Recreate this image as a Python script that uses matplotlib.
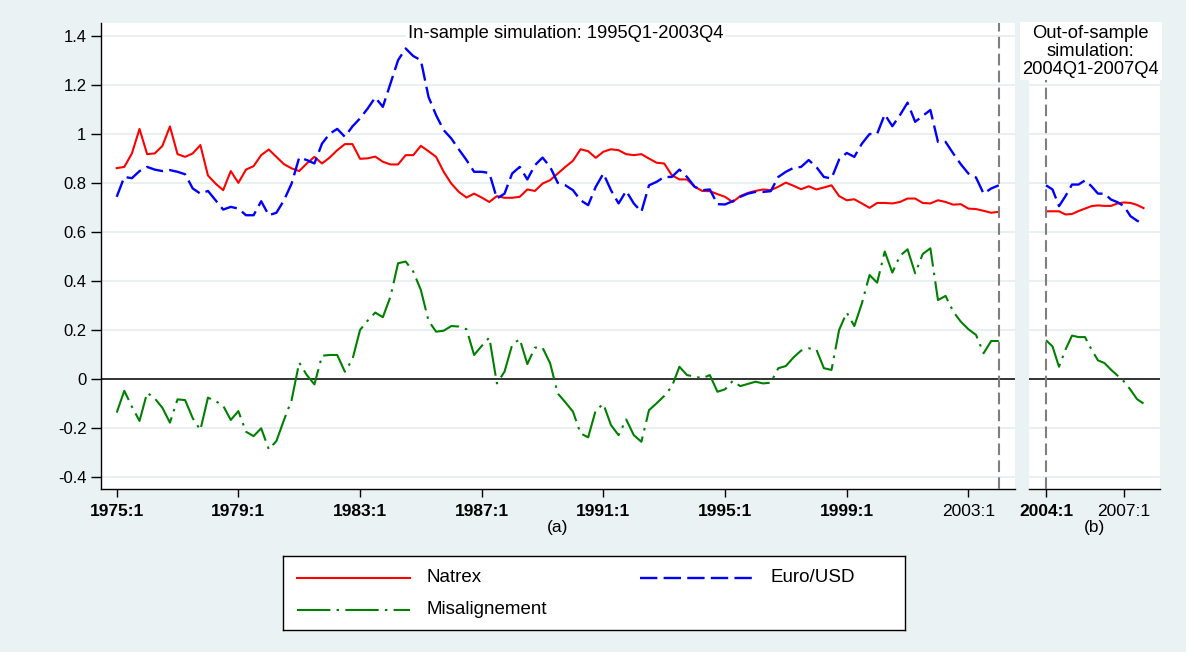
import numpy as np
import matplotlib
matplotlib.use("Agg")
import matplotlib.pyplot as plt

plt.rcParams['font.family'] = ['Liberation Sans', 'DejaVu Sans']
plt.rcParams['lines.scale_dashes'] = False

# ---------------- data (quarterly) ----------------
# Panel (a): 1975:1 ... 2004:1
natrex_a = [0.86, 0.865, 0.92, 1.02, 0.917, 0.92, 0.95, 1.03, 0.917, 0.906,
            0.92, 0.954, 0.83, 0.797, 0.77, 0.848, 0.80, 0.854, 0.868, 0.913,
            0.936, 0.906, 0.876, 0.859, 0.848, 0.879, 0.906, 0.879, 0.903, 0.933,
            0.958, 0.958, 0.898, 0.90, 0.907, 0.886, 0.875, 0.875, 0.913, 0.913,
            0.951, 0.929, 0.906, 0.845, 0.797, 0.763, 0.74, 0.756, 0.74, 0.722,
            0.746, 0.739, 0.739, 0.743, 0.773, 0.767, 0.797, 0.811, 0.838, 0.865,
            0.89, 0.937, 0.929, 0.902, 0.927, 0.937, 0.933, 0.917, 0.913, 0.917,
            0.899, 0.882, 0.879, 0.831, 0.814, 0.814, 0.784, 0.767, 0.766, 0.754,
            0.743, 0.722, 0.746, 0.759, 0.767, 0.773, 0.77, 0.784, 0.801, 0.788,
            0.774, 0.786, 0.773, 0.781, 0.79, 0.746, 0.729, 0.733, 0.716, 0.698,
            0.718, 0.718, 0.716, 0.722, 0.736, 0.736, 0.718, 0.716, 0.729, 0.722,
            0.711, 0.713, 0.695, 0.693, 0.686, 0.678, 0.682]
eurusd_a = [0.743, 0.824, 0.819, 0.848, 0.865, 0.854, 0.848, 0.852, 0.845, 0.835,
            0.777, 0.756, 0.767, 0.729, 0.691, 0.702, 0.695, 0.668, 0.668, 0.725,
            0.668, 0.678, 0.729, 0.797, 0.903, 0.893, 0.879, 0.96, 1.0, 1.02,
            0.988, 1.03, 1.063, 1.103, 1.148, 1.11, 1.205, 1.30, 1.348, 1.317,
            1.30, 1.151, 1.076, 1.015, 0.981, 0.936, 0.893, 0.845, 0.845, 0.84,
            0.736, 0.756, 0.838, 0.865, 0.814, 0.872, 0.903, 0.865, 0.80, 0.79,
            0.77, 0.729, 0.709, 0.784, 0.838, 0.77, 0.716, 0.767, 0.716, 0.682,
            0.79, 0.804, 0.824, 0.824, 0.854, 0.824, 0.784, 0.77, 0.773, 0.713,
            0.712, 0.725, 0.743, 0.756, 0.763, 0.763, 0.766, 0.824, 0.845, 0.861,
            0.865, 0.893, 0.865, 0.824, 0.818, 0.895, 0.922, 0.906, 0.96, 0.999,
            1.0, 1.079, 1.031, 1.076, 1.127, 1.049, 1.073, 1.097, 0.967, 0.967,
            0.92, 0.876, 0.838, 0.822, 0.756, 0.777, 0.79]
misal_a = [-0.137, -0.048, -0.113, -0.171, -0.056, -0.079, -0.117, -0.178, -0.083, -0.086,
           -0.16, -0.208, -0.076, -0.09, -0.109, -0.167, -0.131, -0.215, -0.233, -0.201,
           -0.287, -0.253, -0.167, -0.086, 0.067, 0.016, -0.022, 0.095, 0.098, 0.098,
           0.03, 0.08, 0.2, 0.238, 0.271, 0.252, 0.336, 0.472, 0.479, 0.438,
           0.363, 0.238, 0.193, 0.197, 0.216, 0.214, 0.203, 0.098, 0.135, 0.169,
           -0.018, 0.03, 0.139, 0.163, 0.061, 0.128, 0.128, 0.064, -0.059, -0.095,
           -0.133, -0.222, -0.238, -0.127, -0.102, -0.188, -0.229, -0.165, -0.229, -0.256,
           -0.127, -0.099, -0.069, -0.031, 0.05, 0.016, 0.01, 0.003, 0.016, -0.052,
           -0.042, -0.008, -0.029, -0.02, -0.011, -0.018, -0.015, 0.044, 0.053, 0.088,
           0.116, 0.125, 0.121, 0.044, 0.037, 0.2, 0.271, 0.216, 0.309, 0.424,
           0.393, 0.52, 0.434, 0.502, 0.529, 0.431, 0.51, 0.533, 0.322, 0.339,
           0.275, 0.234, 0.203, 0.18, 0.105, 0.155, 0.155]

# Panel (b): 2004:1 ... 2007:4
natrex_b = [0.684, 0.684, 0.684, 0.671, 0.673, 0.685, 0.695, 0.705, 0.708, 0.706,
            0.706, 0.716, 0.72, 0.718, 0.71, 0.697]
eurusd_b = [0.79, 0.773, 0.705, 0.746, 0.793, 0.793, 0.81, 0.786, 0.756, 0.756,
            0.732, 0.721, 0.705, 0.664, 0.646, 0.63]
misal_b = [0.158, 0.133, 0.05, 0.12, 0.177, 0.171, 0.171, 0.12, 0.076, 0.065,
           0.038, 0.014, -0.01, -0.044, -0.082, -0.1]

xticks_a = [0, 16, 32, 48, 64, 80, 96, 112]
xticklabels_a = ["1975:1", "1979:1", "1983:1", "1987:1", "1991:1", "1995:1", "1999:1", "2003:1"]
xticks_b = [0, 12]
xticklabels_b = ["2004:1", "2007:1"]
yticks = [1.4, 1.2, 1.0, 0.8, 0.6, 0.4, 0.2, 0.0, -0.2, -0.4]
yticklabels = ["1.4", "1.2", "1", "0.8", "0.6", "0.4", "0.2", "0", "-0.2", "-0.4"]
vline_a = 116   # 2004:1
vline_b = 0     # 2004:1

labels = ["Natrex", "Euro/USD", "Misalignement"]
title_a = "In-sample simulation: 1995Q1-2003Q4"
title_b = "Out-of-sample\nsimulation:\n2004Q1-2007Q4"

# ---------------- styling ----------------
BG = "#EAF2F3"
GRID = "#E6EFF0"
RED, BLUE, GREEN = "#FF0000", "#0000FF", "#008000"
ls_red = "-"
ls_blue = (0, (12.5, 4.5))
ls_green = (0, (24.0, 4.5, 1.8, 4.5))
ls_gray = (0, (8.4, 3.8))

W, H = 1186, 652
fig = plt.figure(figsize=(W / 100, H / 100), dpi=100)
fig.patch.set_facecolor(BG)

def fx(px):
    return px / W

def fy(py):
    return 1 - py / H

top_px, bot_px = 22.7, 489.3
ax_a = fig.add_axes([fx(101), fy(bot_px), fx(1015 - 101), (bot_px - top_px) / H])
ax_b = fig.add_axes([fx(1029.3), fy(bot_px), fx(1160 - 1029.3), (bot_px - top_px) / H])

ylim = (-0.4498, 1.4531)

x_a = np.arange(len(natrex_a))
x_b = np.arange(len(natrex_b))

for ax in (ax_a, ax_b):
    ax.set_facecolor("white")
    ax.set_ylim(*ylim)
    ax.set_yticks(yticks)
    ax.grid(axis="y", color=GRID, lw=1.3, zorder=0)
    ax.set_axisbelow(True)
    ax.axhline(0, color="black", lw=1.1, zorder=2)
    for s in ("top", "right"):
        ax.spines[s].set_visible(False)
    ax.spines["bottom"].set_linewidth(1.0)
    ax.spines["left"].set_linewidth(1.0)

ax_a.set_xlim(-2.065, 118.13)
ax_b.set_xlim(-2.57, 17.54)

ax_a.plot(x_a, natrex_a, color=RED, lw=1.5, ls=ls_red, zorder=3)
ax_a.plot(x_a, eurusd_a, color=BLUE, lw=1.7, ls=ls_blue, zorder=3)
ax_a.plot(x_a, misal_a, color=GREEN, lw=1.5, ls=ls_green, zorder=3)
ax_b.plot(x_b, natrex_b, color=RED, lw=1.5, ls=ls_red, zorder=3)
ax_b.plot(x_b, eurusd_b, color=BLUE, lw=1.7, ls=ls_blue, zorder=3)
ax_b.plot(x_b, misal_b, color=GREEN, lw=1.5, ls=ls_green, zorder=3)

ax_a.axvline(vline_a, color="#7F7F7F", lw=1.5, ls=ls_gray, zorder=4)
ax_b.axvline(vline_b, color="#7F7F7F", lw=1.5, ls=ls_gray, zorder=4)

# ticks
ax_a.set_yticklabels(yticklabels, fontsize=12)
ax_a.tick_params(axis="y", length=7, width=1.0, pad=3.5, direction="out")
ax_b.spines["left"].set_visible(False)
ax_b.tick_params(axis="y", left=False, labelleft=False)

ax_a.set_xticks(xticks_a)
ax_a.set_xticklabels(xticklabels_a, fontsize=12.5)
ax_b.set_xticks(xticks_b)
ax_b.set_xticklabels(xticklabels_b, fontsize=12.5)
for ax in (ax_a, ax_b):
    ax.tick_params(axis="x", length=5.5, width=1.0, pad=5.0, direction="out")
for t in ax_a.get_xticklabels():
    t.set_fontweight("normal" if t.get_text() == "2003:1" else "bold")
for t in ax_b.get_xticklabels():
    t.set_fontweight("normal" if t.get_text() == "2007:1" else "bold")

ax_a.set_xlabel("(a)", fontsize=12.5, labelpad=1.0)
ax_b.set_xlabel("(b)", fontsize=12.5, labelpad=1.0)

# panel titles
ax_a.text(0.508, 0.976, title_a, transform=ax_a.transAxes, ha="center", va="center",
          fontsize=13.2, zorder=5,
          bbox=dict(boxstyle="square,pad=0.1", fc="white", ec="none"))
ax_b.text(0.47, 1.0 - 2.0 / (bot_px - top_px), title_b, transform=ax_b.transAxes,
          ha="center", va="top", fontsize=13.2, linespacing=1.07, zorder=5,
          clip_on=False, bbox=dict(boxstyle="square,pad=0.15", fc="white", ec="none"))

# ---------------- legend (box drawn in figure pixels) ----------------
lx0, ly0, lx1, ly1 = 283, 556, 905, 630
lax = fig.add_axes([fx(lx0), fy(ly1), fx(lx1 - lx0), (ly1 - ly0) / H])
lax.set_xlim(0, lx1 - lx0)
lax.set_ylim(ly1 - ly0, 0)
lax.set_xticks([])
lax.set_yticks([])
lax.set_facecolor("white")
for s in lax.spines.values():
    s.set_linewidth(1.0)
    s.set_color("black")
row1, row2 = 578 - ly0, 610 - ly0
lax.plot([14, 127], [row1, row1], color=RED, lw=1.5, ls=ls_red)
lax.text(144, row1, labels[0], fontsize=13.5, va="center", ha="left")
lax.plot([357, 472], [row1, row1], color=BLUE, lw=1.7, ls=ls_blue)
lax.text(487, row1, labels[1], fontsize=13.5, va="center", ha="left")
lax.plot([14, 127], [row2, row2], color=GREEN, lw=1.5, ls=ls_green)
lax.text(144, row2, labels[2], fontsize=13.5, va="center", ha="left")

fig.savefig("out.png", dpi=100, facecolor=BG)
